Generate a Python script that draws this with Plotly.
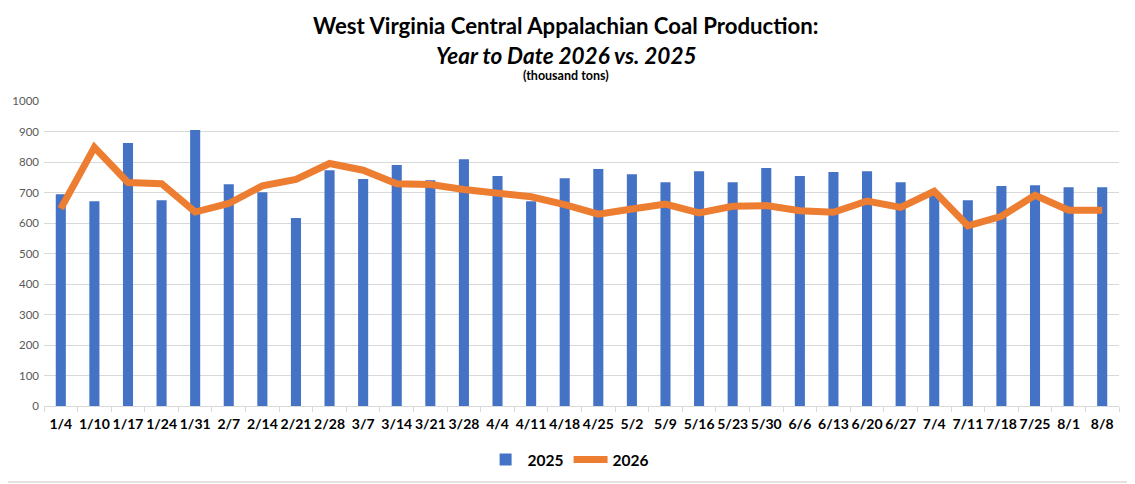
import plotly.graph_objects as go

weeks = ["1/4", "1/10", "1/17", "1/24", "1/31", "2/7", "2/14", "2/21", "2/28", "3/7",
         "3/14", "3/21", "3/28", "4/4", "4/11", "4/18", "4/25", "5/2", "5/9", "5/16",
         "5/23", "5/30", "6/6", "6/13", "6/20", "6/27", "7/4", "7/11", "7/18", "7/25",
         "8/1", "8/8"]
prod_2025 = [694, 671, 862, 675, 905, 727, 701, 616, 773, 744,
             790, 740, 809, 754, 671, 747, 777, 760, 734, 770,
             734, 780, 754, 767, 770, 734, 693, 675, 721, 724,
             717, 717]
prod_2026 = [647, 848, 733, 729, 636, 664, 722, 743, 795, 773,
             729, 726, 710, 697, 686, 660, 629, 646, 662, 633,
             655, 657, 640, 635, 672, 651, 704, 591, 622, 691,
             642, 642]
y_ticks = [0, 100, 200, 300, 400, 500, 600, 700, 800, 900, 1000]

FONT = "Lato"

fig = go.Figure()
fig.add_trace(go.Bar(x=weeks, y=prod_2025, name="2025", marker_color="#4472C4",
                     marker_line_width=0))
fig.add_trace(go.Scatter(x=weeks, y=prod_2026, name="2026", mode="lines",
                         line=dict(color="#ED7D31", width=7)))

# page body has an 8px default margin, so the figure is sized to fit the window
fig.update_layout(
    width=1127, height=476,
    margin=dict(l=36, r=16, t=93, b=78, autoexpand=False),
    paper_bgcolor="white", plot_bgcolor="white",
    bargap=0.7,
    font=dict(family=FONT, color="#000000"),
    showlegend=True,
    legend=dict(orientation="h", x=0.488, xanchor="center", y=-0.177, yanchor="middle",
                font=dict(family=FONT, size=15.5, color="#000000", weight="bold"),
                itemwidth=34, traceorder="normal"),
    xaxis=dict(type="category", showgrid=False, ticks="outside", tickson="boundaries",
               ticklen=5, tickcolor="#D9D9D9", showline=True, linecolor="#D9D9D9",
               linewidth=1, tickangle=0, automargin=False, ticklabelstandoff=5,
               tickfont=dict(family=FONT, size=14, color="#000000", weight="bold")),
    yaxis=dict(range=[0, 1000], tickvals=y_ticks, showgrid=True, gridcolor="#D9D9D9",
               gridwidth=1, zeroline=False, showline=False, ticks="", automargin=False,
               ticklabelstandoff=4,
               tickfont=dict(family=FONT, size=11.5, color="#595959")),
    shapes=[dict(type="rect", xref="paper", yref="paper", x0=-0.06, x1=1.0125,
                 y0=-0.249, y1=1.40, line=dict(color="#D9D9D9", width=1.5))],
    annotations=[
        dict(text="<b>West Virginia Central Appalachian Coal Production:</b>",
             xref="paper", yref="paper", x=0.4855, y=1.249, xanchor="center",
             yanchor="middle", showarrow=False,
             font=dict(family=FONT, size=22.2, color="#000000")),
        dict(text="<b><i>Year to Date 2026 vs. 2025</i></b>",
             xref="paper", yref="paper", x=0.4855, y=1.148, xanchor="center",
             yanchor="middle", showarrow=False,
             font=dict(family=FONT, size=22.5, color="#000000")),
        dict(text="<b>(thousand tons)</b>",
             xref="paper", yref="paper", x=0.4855, y=1.082, xanchor="center",
             yanchor="middle", showarrow=False,
             font=dict(family=FONT, size=12.5, color="#000000")),
    ],
)

fig.write_html("out.html")
